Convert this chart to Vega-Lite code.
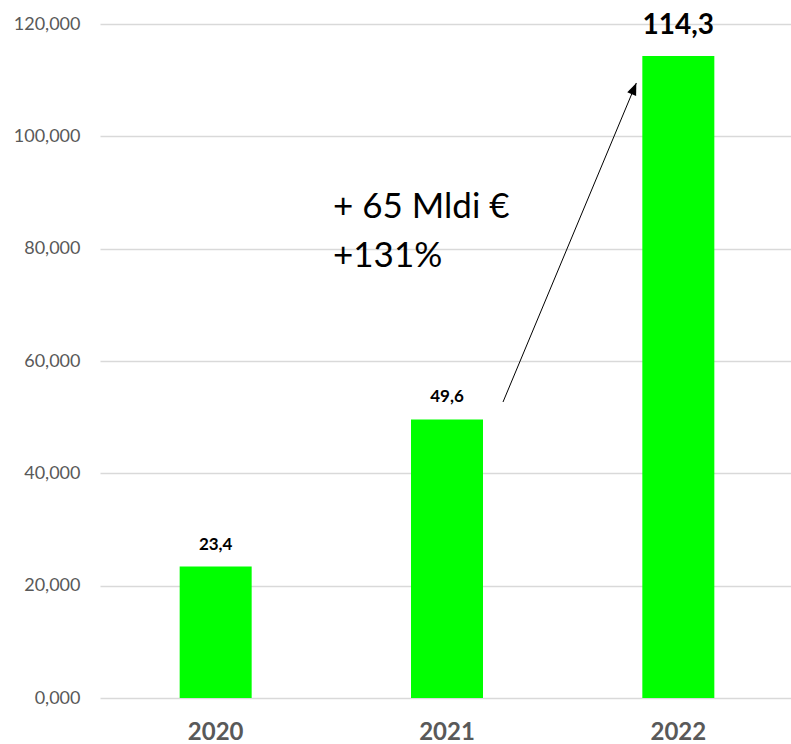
{
  "$schema": "https://vega.github.io/schema/vega-lite/v6.json",
  "width": 691,
  "height": 674,
  "autosize": {"type": "none"},
  "padding": {"left": 100, "top": 24, "right": 0, "bottom": 46},
  "background": "white",
  "config": {
    "view": {"stroke": null},
    "font": "Lato",
    "locale": {"number": {"decimal": ",", "thousands": ".", "grouping": [3], "currency": ["", " €"]}}
  },
  "datasets": {
    "bars": [
      {"year": "2020", "value": 23.4},
      {"year": "2021", "value": 49.6},
      {"year": "2022", "value": 114.3}
    ],
    "notes": [
      {"year": "2021", "value": 85.5, "text": "+ 65 Mldi €"},
      {"year": "2021", "value": 76.7, "text": "+131%"}
    ],
    "arrowLine": [
      {"year": "2021", "value": 52.7, "year2": "2022", "value2": 109.5}
    ],
    "arrowHead": [
      {"year": "2022", "value": 109.5}
    ]
  },
  "encoding": {
    "x": {
      "field": "year",
      "type": "nominal",
      "sort": null,
      "title": null,
      "scale": {"domain": ["2020", "2021", "2022"], "range": [0, 694], "paddingInner": 0, "paddingOuter": 0},
      "axis": {
        "labelAngle": 0,
        "labelFont": "Lato",
        "labelFontSize": 24,
        "labelFontWeight": "bold",
        "labelColor": "#595959",
        "labelBaseline": "alphabetic",
        "labelPadding": 41,
        "ticks": false,
        "domain": false,
        "grid": false
      }
    },
    "y": {
      "field": "value",
      "type": "quantitative",
      "title": null,
      "scale": {"domain": [0, 120], "nice": false, "zero": true},
      "axis": {
        "values": [0, 20, 40, 60, 80, 100, 120],
        "format": ".3f",
        "labelFont": "Lato",
        "labelFontSize": 18,
        "labelColor": "#595959",
        "labelPadding": 20,
        "ticks": false,
        "domain": false,
        "grid": true,
        "gridColor": "#d9d9d9",
        "gridWidth": 1.3
      }
    }
  },
  "layer": [
    {
      "data": {"name": "bars"},
      "mark": {"type": "bar", "width": 72, "color": "#00ff00"}
    },
    {
      "data": {"name": "bars"},
      "transform": [{"filter": "datum.year != '2022'"}],
      "mark": {"type": "text", "baseline": "middle", "dy": -22, "fontSize": 17, "fontWeight": "bold", "color": "#000000"},
      "encoding": {"text": {"field": "value", "type": "quantitative", "format": ".1f"}}
    },
    {
      "data": {"name": "bars"},
      "transform": [{"filter": "datum.year == '2022'"}],
      "mark": {"type": "text", "baseline": "middle", "dy": -30, "fontSize": 28, "fontWeight": "bold", "color": "#000000"},
      "encoding": {"text": {"field": "value", "type": "quantitative", "format": ".1f"}}
    },
    {
      "data": {"name": "notes"},
      "mark": {"type": "text", "align": "left", "baseline": "alphabetic", "dx": -114, "fontSize": 35, "color": "#000000"},
      "encoding": {"text": {"field": "text", "type": "nominal"}}
    },
    {
      "data": {"name": "arrowLine"},
      "mark": {"type": "rule", "color": "#000000", "strokeWidth": 1, "xOffset": 56, "x2Offset": -42},
      "encoding": {
        "x2": {"field": "year2"},
        "y2": {"field": "value2"}
      }
    },
    {
      "data": {"name": "arrowHead"},
      "mark": {"type": "point", "shape": "M0,0L-0.4,1L0.4,1Z", "size": 576, "filled": true, "color": "#000000", "opacity": 1, "angle": 22.8, "xOffset": -42}
    }
  ]
}
